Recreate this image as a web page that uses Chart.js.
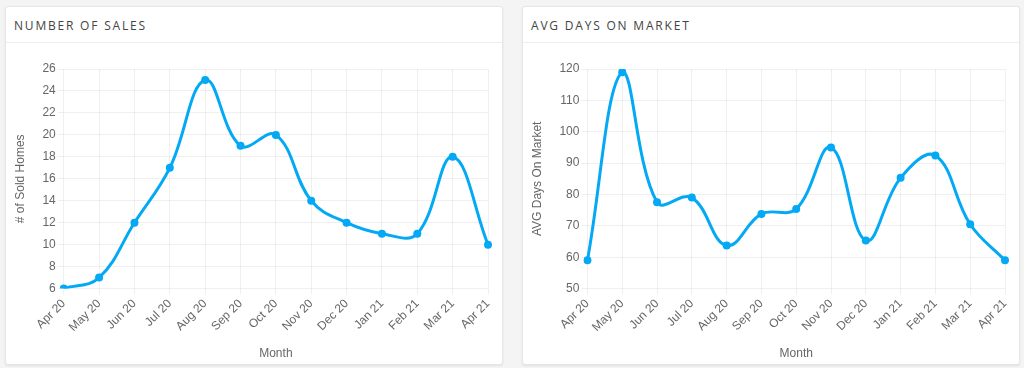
<!DOCTYPE html>
<html><head><meta charset="utf-8">
<script src="https://cdn.jsdelivr.net/npm/chart.js@4/dist/chart.umd.min.js"></script>
<style>
html,body{margin:0;padding:0;background:#f4f4f4;width:1024px;height:368px;overflow:hidden;font-family:"Liberation Sans",Arial,sans-serif;}
.card{position:absolute;top:6px;height:357px;background:#fff;border:1px solid #e6e6e6;border-radius:3px;box-shadow:0 1px 2px rgba(0,0,0,0.08);}
.hdr{position:absolute;left:0;right:0;top:0;height:35px;border-bottom:1px solid #eeeeee;}
.hdr span{position:absolute;left:8px;top:10px;font-family:"Open Sans",sans-serif;font-size:12px;letter-spacing:1.8px;color:#444;font-weight:500;}
.cw{position:absolute;left:0;right:0;top:36px;bottom:0;}
</style></head><body>
<div class="card" style="left:5px;width:496px;"><div class="hdr"><span>NUMBER OF SALES</span></div><div class="cw"><canvas id="c1"></canvas></div></div>
<div class="card" style="left:522px;width:496px;"><div class="hdr"><span>AVG DAYS ON MARKET</span></div><div class="cw"><canvas id="c2"></canvas></div></div>
<script>
const months = ["Apr 20","May 20","Jun 20","Jul 20","Aug 20","Sep 20","Oct 20","Nov 20","Dec 20","Jan 21","Feb 21","Mar 21","Apr 21"];
const salesValues = [6,7,12,17,25,19,20,14,12,11,11,18,10];
const daysValues = [59,119,77.5,79,63.7,73.8,75.4,95,65.3,85.3,92.4,70.5,59];
const salesTicks = {min:6,max:26,step:2};
const daysTicks = {min:50,max:120,step:10};

function makeChart(id, values, yTitle, ticks){
  const color = "#03A9F4";
  const grid = "rgba(0,0,0,0.06)";
  return new Chart(document.getElementById(id), {
    type:"line",
    data:{labels:months, datasets:[{data:values, borderColor:color, backgroundColor:color, borderWidth:3, tension:0.4, fill:false, pointRadius:4, pointBackgroundColor:color, pointBorderWidth:0}]},
    options:{
      responsive:true, maintainAspectRatio:false, animation:false,
      layout:{padding:{left:3,right:14,top:26,bottom:0}},
      plugins:{legend:{display:false},tooltip:{enabled:false}},
      scales:{
        x:{grid:{color:grid,tickLength:6},border:{display:false},
           ticks:{color:"#666",font:{family:"Liberation Sans",size:12},maxRotation:45,minRotation:45,padding:2},
           title:{display:true,text:"Month",color:"#666",font:{family:"Liberation Sans",size:12},padding:{top:10,bottom:3}}},
        y:{min:ticks.min,max:ticks.max,grid:{color:grid,tickLength:6},border:{display:false},
           ticks:{stepSize:ticks.step,color:"#666",font:{family:"Liberation Sans",size:12},padding:2},
           title:{display:true,text:yTitle,color:"#666",font:{family:"Liberation Sans",size:12},padding:{top:4,bottom:13}}}
      }
    }
  });
}
makeChart("c1", salesValues, "# of Sold Homes", salesTicks);
makeChart("c2", daysValues, "AVG Days On Market", daysTicks);
</script>
</body></html>
